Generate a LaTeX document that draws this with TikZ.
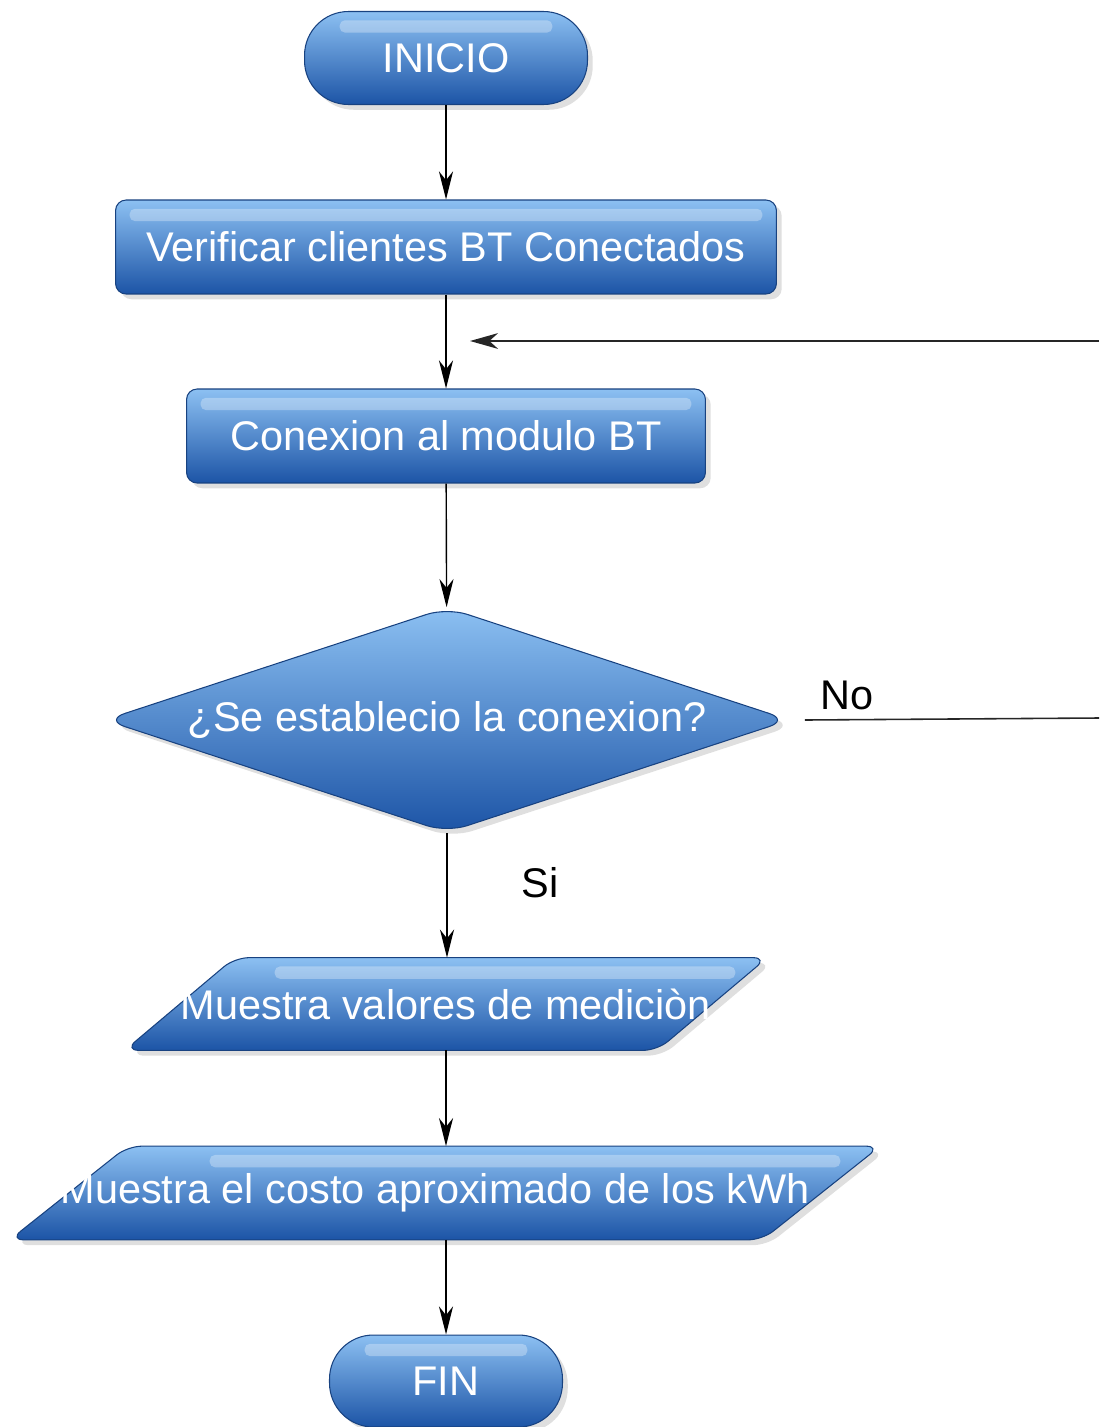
\documentclass[tikz,border=0pt]{standalone}
\usepackage{fontspec}
\setmainfont{Liberation Sans}
\definecolor{boxtop}{RGB}{140, 192, 242}
\definecolor{boxmid}{RGB}{58, 130, 214}
\definecolor{boxbot}{RGB}{28, 84, 166}
\definecolor{boxline}{RGB}{24, 66, 128}
\usetikzlibrary{shapes.geometric, arrows.meta, shadows, backgrounds}

\begin{document}
\begin{tikzpicture}[x=0.02cm, y=-0.02cm,
  blockfill/.style={draw=boxline, line width=0.6pt, top color=boxtop, middle color=boxmid,
    bottom color=boxbot, drop shadow={shadow xshift=3pt, shadow yshift=-3pt, opacity=0.25}},
  gloss/.style n args={2}{path picture={\fill[white, opacity=0.3, rounded corners=3pt]
    ([xshift=#1, yshift=-5pt]path picture bounding box.north west) rectangle
    ([xshift=-#2, yshift=-12pt]path picture bounding box.north east);}},
  blocktext/.style={text=white, font=\fontsize{23.6}{28}\selectfont, inner sep=0pt},
  termbox/.style={blockfill, blocktext, rectangle, rounded corners=25pt, gloss={20pt}{20pt}},
  procbox/.style={blockfill, blocktext, rectangle, rounded corners=6pt, gloss={8pt}{8pt}},
  decbox/.style={blockfill, blocktext, diamond, aspect=3, rounded corners=12pt},
  iotext/.style={blocktext, rectangle},
  ioshape/.style={blockfill, rounded corners=8pt},
  flow/.style={draw=black, line width=0.8pt, -{Stealth[length=16pt, width=8pt, inset=5pt]}},
  plain/.style={draw=black!85, line width=0.9pt},
  tag/.style={font=\fontsize{23.6}{28}\selectfont, text=black}]

  \useasboundingbox (0,0) rectangle (1099,1427);

  % Terminals and steps
  \node[termbox, minimum width=5.66cm, minimum height=1.86cm] (inicio) at (446,58) {INICIO};
  \node[procbox, minimum width=13.22cm, minimum height=1.88cm] (verif) at (446,247) {Verificar clientes BT Conectados};
  \node[procbox, minimum width=10.38cm, minimum height=1.88cm] (conn) at (446,436) {Conexion al modulo BT};
  \node[decbox, minimum width=13.7cm, minimum height=4.5cm] (dec) at (447,720) {\makebox[0pt]{¿Se establecio la conexion?}};
  \node[iotext, minimum width=10.64cm, minimum height=1.84cm] (med) at (446,1004) {\makebox[0pt]{Muestra valores de mediciòn}};
  \node[iotext, minimum width=15.04cm, minimum height=1.86cm] (cost) at (445,1193) {\makebox[0pt]{\hspace*{-0.4cm}Muestra el costo aproximado de los kWh}};
  \node[termbox, minimum width=4.66cm, minimum height=1.84cm] (fin) at (446,1381) {FIN};

  % Parallelograms behind the output texts
  \begin{scope}[on background layer]
    \draw[ioshape, gloss={3cm}{0.64cm}] ([xshift=1.1cm]med.north west) -- ([xshift=1.1cm]med.north east)
      -- ([xshift=-1.1cm]med.south east) -- ([xshift=-1.1cm]med.south west) -- cycle;
    \draw[ioshape, gloss={4cm}{0.8cm}] ([xshift=1.18cm]cost.north west) -- ([xshift=1.18cm]cost.north east)
      -- ([xshift=-1.18cm]cost.south east) -- ([xshift=-1.18cm]cost.south west) -- cycle;
  \end{scope}

  % Labels
  \node[tag] (notag) at (847,695) {No};
  \node[tag] (sitag) at (540,883) {Si};

  % Loose ends of the return path
  \coordinate (noend) at (1099,718);
  \coordinate (backstart) at (1099,341);
  \coordinate (backend) at (470,341);

  % Connectors
  \draw[flow] (inicio) -- (verif);
  \draw[flow] (verif) -- (conn);
  \draw[flow] (conn) -- (dec);
  \draw[flow] (dec.south) -- (dec.south |- med.north);
  \draw[flow] (med.south) -- (med.south |- cost.north);
  \draw[flow] (cost.south -| fin.north) -- (fin.north);
  \draw[plain] ([xshift=15*0.02cm]dec.east) -- (noend);
  \draw[plain, -{Stealth[length=16pt, width=9pt, inset=5pt]}] (backstart) -- (backend);
\end{tikzpicture}
\end{document}
